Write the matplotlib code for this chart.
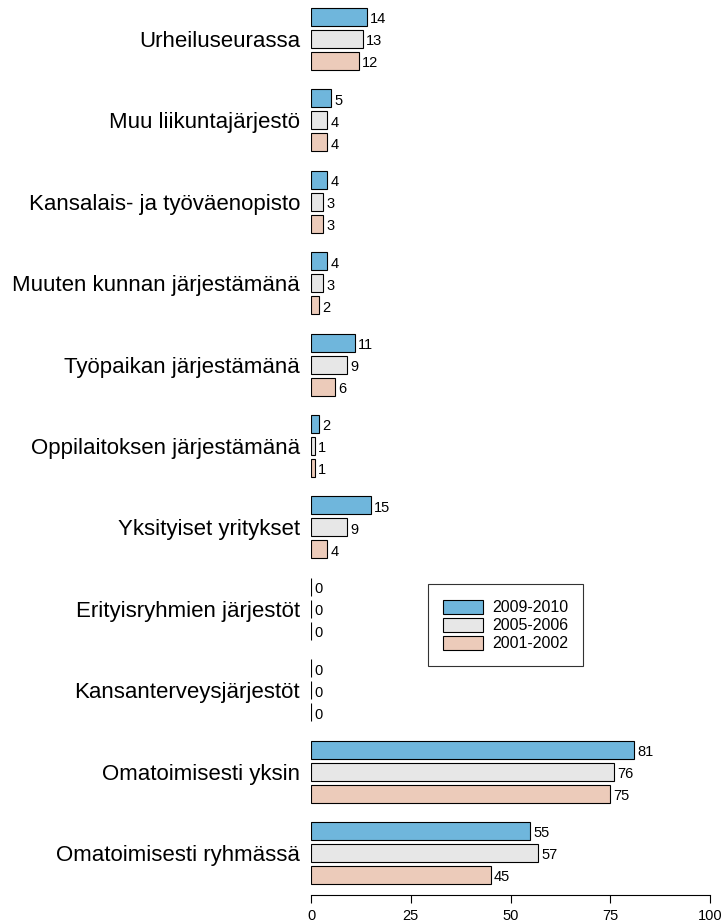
import numpy as np
import matplotlib
matplotlib.use('Agg')
import matplotlib.pyplot as plt

plt.rcParams['font.family'] = ['Liberation Sans', 'DejaVu Sans']

categories = ['Urheiluseurassa', 'Muu liikuntajärjestö', 'Kansalais- ja työväenopisto',
              'Muuten kunnan järjestämänä', 'Työpaikan järjestämänä',
              'Oppilaitoksen järjestämänä', 'Yksityiset yritykset',
              'Erityisryhmien järjestöt', 'Kansanterveysjärjestöt',
              'Omatoimisesti yksin', 'Omatoimisesti ryhmässä']
series_names = ['2009-2010', '2005-2006', '2001-2002']
v2009 = [14, 5, 4, 4, 11, 2, 15, 0, 0, 81, 55]
v2005 = [13, 4, 3, 3, 9, 1, 9, 0, 0, 76, 57]
v2001 = [12, 4, 3, 2, 6, 1, 4, 0, 0, 75, 45]
colors = ['#6FB6DC', '#E7E7E7', '#ECCBBA']
xticks = [0, 25, 50, 75, 100]

fig = plt.figure(figsize=(7.25, 9.23), dpi=100)
ax = fig.add_axes([311 / 725, 28 / 923, 399 / 725, 895 / 923])

y = np.arange(len(categories))
pitch = 0.27
height = 0.221
for k, (vals, name, c) in enumerate(zip([v2009, v2005, v2001], series_names, colors)):
    pos = y + (k - 1) * pitch
    ax.barh(pos, vals, height=height, color=c, edgecolor='black', linewidth=0.8, label=name)
    for p, v in zip(pos, vals):
        ax.text(v + 0.8, p + 0.03, str(v), va='center', ha='left', fontsize=10.5)

ax.set_xlim(0, 100)
ax.set_ylim(10.516, -0.479)
ax.set_yticks(y)
ax.set_yticklabels(categories, fontsize=16)
ax.tick_params(axis='y', length=0, pad=8)
ax.set_xticks(xticks)
ax.set_xticklabels([str(t) for t in xticks], fontsize=10.5)
ax.tick_params(axis='x', length=6, width=0.8, pad=4)
for s in ['top', 'right', 'left']:
    ax.spines[s].set_visible(False)
ax.spines['bottom'].set_linewidth(0.8)

leg = ax.legend(loc='upper left', bbox_to_anchor=(0.293, 0.347), fontsize=11.5,
                frameon=True, fancybox=False, edgecolor='black',
                handlelength=2.5, handleheight=1.0, borderpad=0.95,
                labelspacing=0.15, handletextpad=0.55, borderaxespad=0)
leg.get_frame().set_linewidth(0.8)

fig.savefig('out.png', dpi=100)
